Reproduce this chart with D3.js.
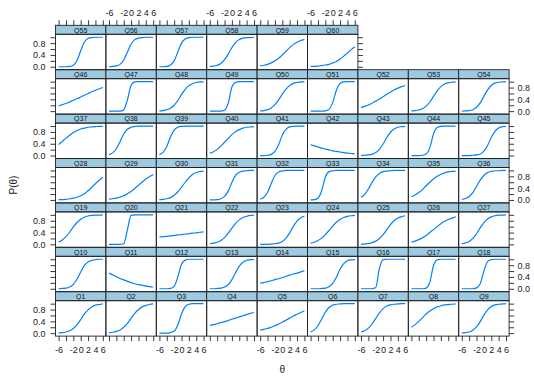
<!DOCTYPE html>
<html>
<head>
<meta charset="utf-8">
<script src="https://cdn.jsdelivr.net/npm/d3@7"></script>
<style>
  html, body { margin: 0; padding: 0; background: #fff; }
  svg { display: block; font-family: "Liberation Sans", Arial, sans-serif; }
</style>
</head>
<body>
<div id="chart"></div>
<script>
const theta = [-6, -5, -4, -3, -2, -1, 0, 1, 2, 3, 4, 5, 6];

const items = ["Q1", "Q2", "Q3", "Q4", "Q5", "Q6", "Q7", "Q8", "Q9",
  "Q10", "Q11", "Q12", "Q13", "Q14", "Q15", "Q16", "Q17", "Q18",
  "Q19", "Q20", "Q21", "Q22", "Q23", "Q24", "Q25", "Q26", "Q27",
  "Q28", "Q29", "Q30", "Q31", "Q32", "Q33", "Q34", "Q35", "Q36",
  "Q37", "Q38", "Q39", "Q40", "Q41", "Q42", "Q43", "Q44", "Q45",
  "Q46", "Q47", "Q48", "Q49", "Q50", "Q51", "Q52", "Q53", "Q54",
  "Q55", "Q56", "Q57", "Q58", "Q59", "Q60"];

// P(theta) for each item
const Q1 = [0.01, 0.02, 0.04, 0.08, 0.16, 0.29, 0.46, 0.65, 0.79, 0.89, 0.95, 0.97, 0.99];
const Q2 = [0.01, 0.03, 0.06, 0.11, 0.20, 0.33, 0.50, 0.67, 0.80, 0.89, 0.94, 0.97, 0.99];
const Q3 = [0, 0, 0, 0.02, 0.07, 0.28, 0.65, 0.90, 0.98, 1, 1, 1, 1];
const Q4 = [0.26, 0.29, 0.32, 0.36, 0.39, 0.43, 0.47, 0.51, 0.55, 0.59, 0.63, 0.67, 0.70];
const Q5 = [0.10, 0.13, 0.16, 0.20, 0.25, 0.31, 0.37, 0.44, 0.51, 0.58, 0.64, 0.70, 0.76];
const Q6 = [0.04, 0.11, 0.25, 0.48, 0.71, 0.87, 0.95, 0.98, 0.99, 1, 1, 1, 1];
const Q7 = [0.04, 0.08, 0.17, 0.31, 0.50, 0.69, 0.83, 0.92, 0.96, 0.98, 0.99, 1, 1];
const Q8 = [0.20, 0.29, 0.40, 0.52, 0.65, 0.75, 0.83, 0.89, 0.93, 0.96, 0.97, 0.98, 0.99];
const Q9 = [0.01, 0.02, 0.04, 0.10, 0.21, 0.39, 0.61, 0.79, 0.90, 0.96, 0.98, 0.99, 1];
const Q10 = [0, 0.01, 0.02, 0.06, 0.15, 0.33, 0.57, 0.79, 0.91, 0.96, 0.99, 1, 1];
const Q11 = [0.53, 0.47, 0.41, 0.35, 0.30, 0.25, 0.21, 0.17, 0.14, 0.12, 0.09, 0.07, 0.06];
const Q12 = [0, 0, 0, 0.01, 0.08, 0.40, 0.83, 0.97, 1, 1, 1, 1, 1];
const Q13 = [0, 0, 0.01, 0.02, 0.06, 0.14, 0.31, 0.55, 0.77, 0.90, 0.96, 0.99, 0.99];
const Q14 = [0.19, 0.21, 0.24, 0.27, 0.31, 0.34, 0.38, 0.42, 0.46, 0.50, 0.53, 0.57, 0.61];
const Q15 = [0, 0, 0, 0.01, 0.02, 0.07, 0.18, 0.39, 0.66, 0.85, 0.95, 0.98, 0.99];
const Q16 = [0, 0, 0, 0, 0.04, 0.69, 0.99, 1, 1, 1, 1, 1, 1];
const Q17 = [0, 0, 0, 0, 0.02, 0.22, 0.78, 0.98, 1, 1, 1, 1, 1];
const Q18 = [0, 0, 0, 0, 0.03, 0.17, 0.60, 0.92, 0.99, 1, 1, 1, 1];
const Q19 = [0.08, 0.15, 0.26, 0.41, 0.59, 0.74, 0.85, 0.92, 0.96, 0.98, 0.99, 0.99, 1];
const Q20 = [0, 0, 0, 0, 0.02, 0.50, 0.98, 1, 1, 1, 1, 1, 1];
const Q21 = [0.25, 0.26, 0.27, 0.29, 0.30, 0.32, 0.33, 0.35, 0.36, 0.38, 0.39, 0.41, 0.42];
const Q22 = [0.02, 0.04, 0.07, 0.13, 0.23, 0.38, 0.55, 0.71, 0.83, 0.91, 0.95, 0.98, 0.99];
const Q23 = [0, 0, 0, 0.01, 0.02, 0.04, 0.10, 0.21, 0.39, 0.61, 0.79, 0.90, 0.96];
const Q24 = [0.04, 0.07, 0.13, 0.21, 0.33, 0.47, 0.62, 0.75, 0.84, 0.91, 0.95, 0.97, 0.98];
const Q25 = [0.01, 0.01, 0.03, 0.06, 0.11, 0.20, 0.33, 0.50, 0.67, 0.80, 0.89, 0.94, 0.97];
const Q26 = [0.07, 0.11, 0.16, 0.22, 0.30, 0.40, 0.50, 0.60, 0.70, 0.78, 0.84, 0.89, 0.93];
const Q27 = [0.02, 0.05, 0.10, 0.20, 0.36, 0.56, 0.74, 0.86, 0.93, 0.97, 0.99, 0.99, 1];
const Q28 = [0.01, 0.01, 0.02, 0.04, 0.06, 0.09, 0.14, 0.21, 0.31, 0.43, 0.55, 0.67, 0.77];
const Q29 = [0.03, 0.04, 0.06, 0.10, 0.14, 0.21, 0.29, 0.39, 0.50, 0.61, 0.71, 0.79, 0.86];
const Q30 = [0.01, 0.02, 0.04, 0.08, 0.16, 0.27, 0.43, 0.60, 0.75, 0.86, 0.93, 0.96, 0.98];
const Q31 = [0, 0, 0.01, 0.04, 0.12, 0.30, 0.59, 0.83, 0.94, 0.98, 0.99, 1, 1];
const Q32 = [0.03, 0.09, 0.26, 0.56, 0.83, 0.95, 0.98, 1, 1, 1, 1, 1, 1];
const Q33 = [0, 0.01, 0.06, 0.31, 0.77, 0.96, 0.99, 1, 1, 1, 1, 1, 1];
const Q34 = [0.09, 0.19, 0.37, 0.59, 0.78, 0.90, 0.96, 0.98, 0.99, 1, 1, 1, 1];
const Q35 = [0.11, 0.17, 0.25, 0.35, 0.48, 0.60, 0.71, 0.80, 0.87, 0.92, 0.95, 0.97, 0.98];
const Q36 = [0.02, 0.05, 0.12, 0.25, 0.46, 0.67, 0.83, 0.93, 0.97, 0.99, 0.99, 1, 1];
const Q37 = [0.37, 0.48, 0.59, 0.69, 0.78, 0.85, 0.90, 0.93, 0.96, 0.97, 0.98, 0.99, 0.99];
const Q38 = [0.03, 0.09, 0.23, 0.47, 0.73, 0.89, 0.96, 0.99, 1, 1, 1, 1, 1];
const Q39 = [0.03, 0.11, 0.31, 0.63, 0.86, 0.96, 0.99, 1, 1, 1, 1, 1, 1];
const Q40 = [0.08, 0.13, 0.21, 0.32, 0.45, 0.58, 0.71, 0.81, 0.88, 0.93, 0.96, 0.97, 0.98];
const Q41 = [0, 0, 0.01, 0.04, 0.14, 0.37, 0.69, 0.89, 0.97, 0.99, 1, 1, 1];
const Q42 = [0.37, 0.33, 0.29, 0.25, 0.22, 0.19, 0.16, 0.14, 0.12, 0.10, 0.08, 0.07, 0.06];
const Q43 = [0, 0.01, 0.02, 0.04, 0.10, 0.21, 0.39, 0.61, 0.79, 0.90, 0.96, 0.98, 0.99];
const Q44 = [0, 0, 0, 0.01, 0.05, 0.27, 0.73, 0.95, 0.99, 1, 1, 1, 1];
const Q45 = [0, 0, 0, 0.01, 0.02, 0.05, 0.15, 0.34, 0.61, 0.82, 0.93, 0.98, 0.99];
const Q46 = [0.18, 0.22, 0.26, 0.31, 0.37, 0.42, 0.48, 0.54, 0.60, 0.66, 0.71, 0.76, 0.80];
const Q47 = [0, 0, 0, 0, 0.05, 0.38, 0.88, 0.99, 1, 1, 1, 1, 1];
const Q48 = [0.01, 0.02, 0.05, 0.10, 0.20, 0.36, 0.56, 0.74, 0.86, 0.93, 0.97, 0.99, 0.99];
const Q49 = [0, 0, 0, 0, 0.03, 0.27, 0.82, 0.98, 1, 1, 1, 1, 1];
const Q50 = [0.01, 0.02, 0.05, 0.11, 0.22, 0.38, 0.58, 0.75, 0.87, 0.94, 0.97, 0.99, 0.99];
const Q51 = [0, 0, 0, 0, 0.01, 0.06, 0.29, 0.71, 0.94, 0.99, 1, 1, 1];
const Q52 = [0.12, 0.16, 0.21, 0.27, 0.34, 0.41, 0.49, 0.57, 0.65, 0.72, 0.78, 0.83, 0.87];
const Q53 = [0.01, 0.02, 0.04, 0.08, 0.17, 0.31, 0.50, 0.69, 0.83, 0.92, 0.96, 0.98, 0.99];
const Q54 = [0, 0.01, 0.02, 0.05, 0.13, 0.28, 0.50, 0.72, 0.87, 0.95, 0.98, 0.99, 1];
const Q55 = [0, 0, 0, 0.01, 0.05, 0.21, 0.54, 0.84, 0.96, 0.99, 1, 1, 1];
const Q56 = [0, 0.01, 0.03, 0.08, 0.23, 0.50, 0.77, 0.92, 0.97, 0.99, 1, 1, 1];
const Q57 = [0, 0, 0.01, 0.06, 0.20, 0.50, 0.80, 0.94, 0.99, 1, 1, 1, 1];
const Q58 = [0.01, 0.02, 0.05, 0.11, 0.24, 0.43, 0.65, 0.82, 0.92, 0.97, 0.99, 0.99, 1];
const Q59 = [0.03, 0.05, 0.08, 0.13, 0.20, 0.29, 0.40, 0.52, 0.65, 0.75, 0.83, 0.89, 0.93];
const Q60 = [0.01, 0.01, 0.02, 0.04, 0.06, 0.08, 0.13, 0.18, 0.26, 0.36, 0.47, 0.58, 0.68];

const traces = [Q1, Q2, Q3, Q4, Q5, Q6, Q7, Q8, Q9, Q10, Q11, Q12, Q13, Q14, Q15,
  Q16, Q17, Q18, Q19, Q20, Q21, Q22, Q23, Q24, Q25, Q26, Q27, Q28, Q29, Q30,
  Q31, Q32, Q33, Q34, Q35, Q36, Q37, Q38, Q39, Q40, Q41, Q42, Q43, Q44, Q45,
  Q46, Q47, Q48, Q49, Q50, Q51, Q52, Q53, Q54, Q55, Q56, Q57, Q58, Q59, Q60];

// ticks, and the ones that keep a label (the rest were dropped for overlap)
const xTicks = [-6, -4, -2, 0, 2, 4, 6];
const xLabelled = [-6, -2, 0, 2, 4, 6];
const yTicks = [0, 0.2, 0.4, 0.6, 0.8, 1.0];
const yLabelled = [0, 0.4, 0.8];

const width = 534, height = 381;
const nCol = 9, nRow = 7;
const gridLeft = 55.5, gridTop = 25.3;
const colW = 50.4, rowH = 44.4, stripH = 9;
const panelH = rowH - stripH;

const svg = d3.select('#chart')
  .append('svg')
  .attr('width', width)
  .attr('height', height);

const x = d3.scaleLinear().domain([-6.84, 6.84]).range([0, colW]);
const y = d3.scaleLinear().domain([-0.1, 1.1]).range([panelH, 0]);

const line = d3.line()
  .x((d, i) => x(theta[i]))
  .y(d => y(d))
  .curve(d3.curveMonotoneX);

// panels: Q1 bottom-left, filled left to right then upward
traces.forEach((vals, i) => {
  const col = i % nCol;
  const row = nRow - 1 - Math.floor(i / nCol);
  const g = svg.append('g')
    .attr('transform', `translate(${gridLeft + col * colW},${gridTop + row * rowH})`);

  g.append('rect')
    .attr('width', colW)
    .attr('height', stripH)
    .attr('fill', '#9ECAE1')
    .attr('stroke', '#222')
    .attr('stroke-width', 0.9);

  g.append('text')
    .attr('x', colW / 2)
    .attr('y', stripH / 2 + 0.3)
    .attr('text-anchor', 'middle')
    .attr('dominant-baseline', 'central')
    .style('font-size', '7px')
    .attr('fill', '#111')
    .text(items[i]);

  const p = g.append('g').attr('transform', `translate(0,${stripH})`);

  p.append('path')
    .datum(vals)
    .attr('fill', 'none')
    .attr('stroke', '#0080ff')
    .attr('stroke-width', 1.2)
    .attr('d', line);

  p.append('rect')
    .attr('width', colW)
    .attr('height', panelH)
    .attr('fill', 'none')
    .attr('stroke', '#222')
    .attr('stroke-width', 0.9);
});

function styleAxis(sel) {
  sel.select('.domain').remove();
  sel.attr('font-family', null).attr('font-size', null)
    .style('font-size', '9px')
    .attr('color', '#222');
  sel.selectAll('.tick line').attr('stroke-width', 0.9);
}

const xFmt = show => v => (show && xLabelled.includes(v)) ? String(v) : '';
const yFmt = show => v => (show && yLabelled.some(t => Math.abs(t - v) < 1e-9)) ? v.toFixed(1) : '';

// top axis on the first row (6 panels), labels on every other column
for (let c = 0; c < 6; c++) {
  svg.append('g')
    .attr('transform', `translate(${gridLeft + c * colW},${gridTop})`)
    .call(d3.axisTop(x).tickValues(xTicks).tickSize(5).tickPadding(4).tickFormat(xFmt(c % 2 === 1)))
    .call(styleAxis);
}

// bottom axis
for (let c = 0; c < nCol; c++) {
  svg.append('g')
    .attr('transform', `translate(${gridLeft + c * colW},${gridTop + nRow * rowH})`)
    .call(d3.axisBottom(x).tickValues(xTicks).tickSize(5).tickPadding(6).tickFormat(xFmt(c % 2 === 0)))
    .call(styleAxis);
}

// left and right axes
for (let r = 0; r < nRow; r++) {
  const py = gridTop + r * rowH + stripH;
  svg.append('g')
    .attr('transform', `translate(${gridLeft},${py})`)
    .call(d3.axisLeft(y).tickValues(yTicks).tickSize(5).tickPadding(5).tickFormat(yFmt(r % 2 === 0)))
    .call(styleAxis);

  const lastCol = r === 0 ? 6 : nCol;
  svg.append('g')
    .attr('transform', `translate(${gridLeft + lastCol * colW},${py})`)
    .call(d3.axisRight(y).tickValues(yTicks).tickSize(5).tickPadding(3.5).tickFormat(yFmt(r % 2 === 1)))
    .call(styleAxis);
}

// axis titles
svg.append('text')
  .attr('transform', 'translate(13.7,185) rotate(-90)')
  .attr('text-anchor', 'middle')
  .attr('dominant-baseline', 'central')
  .style('font-size', '10px')
  .attr('fill', '#222')
  .text('P(θ)');

svg.append('text')
  .attr('x', gridLeft + nCol * colW / 2)
  .attr('y', 369)
  .attr('text-anchor', 'middle')
  .attr('dominant-baseline', 'central')
  .style('font-size', '10px')
  .attr('fill', '#222')
  .text('θ');
</script>
</body>
</html>
